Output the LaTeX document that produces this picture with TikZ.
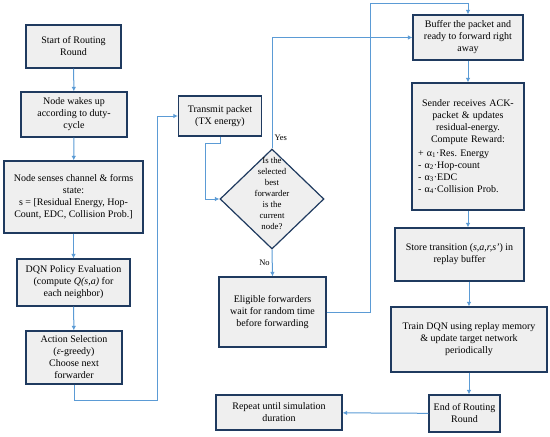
\documentclass[tikz,border=0pt]{standalone}
\usepackage{fontspec}
\setmainfont{Liberation Serif}
\usetikzlibrary{shapes.geometric,arrows.meta}

\definecolor{boxedge}{HTML}{1F3A5F}
\definecolor{boxfill}{HTML}{EFEFEF}
\definecolor{flowblue}{HTML}{5B9BD5}

\begin{document}
\begin{tikzpicture}[x=1pt, y=-1pt, >={Latex[length=4.5pt,width=4.5pt]},
  box/.style 2 args={draw=boxedge, fill=boxfill, line width=1.2pt, align=center,
    minimum width=#1, minimum height=#2, inner sep=2pt,
    font=\fontsize{10}{12}\selectfont},
  decision/.style={diamond, draw=boxedge, fill=boxfill, line width=1.2pt,
    minimum width=104pt, minimum height=100pt, inner sep=0pt,
    font=\fontsize{8.8}{11}\selectfont},
  flow/.style={->, flowblue, line width=1pt},
  lbl/.style={text=black, font=\fontsize{8.5}{10}\selectfont, inner sep=2pt}]

  \useasboundingbox (0,0) rectangle (550,437);

  % --- Columna izquierda ---
  \node[box={95pt}{43pt}] (start) at (73.5,46.5) {Start of Routing\\ Round};
  \node[box={106pt}{45pt}] (wake) at (74,114.5)
    {Node wakes up\\ according to duty-\\ cycle};
  \node[box={139pt}{72pt}] (senses) at (73.5,197)
    {Node senses channel \& forms\\ state:\\ s = [Residual Energy, Hop-\\ Count, EDC, Collision Prob.]};
  \node[box={113pt}{47pt}] (dqn) at (73.5,282.5)
    {DQN Policy Evaluation\\ (compute \textit{Q(s,a)} for\\ each neighbor)};
  \node[box={96pt}{53pt}] (action) at (74,357.5)
    {Action Selection\\ (\textit{ε}-greedy)\\ Choose next\\ forwarder};

  % --- Columna central ---
  \node[box={83pt}{40pt}] (transmit) at (220,116) {Transmit packet\\ (TX energy)};
  \node[decision] (decide) at (272,199)
    {\smash{\raisebox{3pt}{\parbox[c]{48pt}{\centering Is the\\ selected\\ best\\
      forwarder\\ is the\\ current\\ node?}}}};
  \node[box={107pt}{70pt}] (eligible) at (272.5,312)
    {Eligible forwarders\\ wait for random time\\ before forwarding};
  \node[box={126pt}{35pt}] (repeat) at (279,412.5)
    {Repeat until simulation\\ duration};

  % --- Columna derecha ---
  \node[box={110pt}{45pt}] (buffer) at (468,37.5)
    {Buffer the packet and\\ ready to forward right\\ away};
  \node[box={112pt}{127pt}, text width=100pt, align=left, inner xsep=6pt] (sender) at (468,146.5)
    {{\centering Sender receives ACK-\\ packet \& updates\\ residual-energy.\\ Compute Reward:\par}
     \vspace{2pt}
     + α\textsubscript{1}·Res.\ Energy\\
     - α\textsubscript{2}·Hop-count\\
     - α\textsubscript{3}·EDC\\
     - α\textsubscript{4}·Collision Prob.};
  \node[box={129pt}{53pt}] (store) at (459.5,254.5)
    {Store transition (\textit{s,a,r,s'}) in\\ replay buffer};
  \node[box={156pt}{65pt}] (train) at (469,339.5)
    {Train DQN using replay memory\\ \& update target network\\ periodically};
  \node[box={71pt}{37pt}] (endr) at (464.5,413.5) {End of Routing\\ Round};

  % --- Puntos de quiebre ---
  \coordinate (actloop) at (157,400);
  \coordinate (txbend) at (205,143);
  \coordinate (nobend) at (370,3);

  % --- Flechas ---
  \draw[flow] (start) -- (wake);
  \draw[flow] (wake) -- (senses);
  \draw[flow] (senses) -- (dqn);
  \draw[flow] (dqn) -- (action);
  \draw[flow] (action.south) |- (actloop) |- (transmit.west);
  \draw[flow] (transmit.south) |- (txbend) |- (decide.west);
  \draw[flow] (decide.north) |- node[lbl, pos=0.05, right] {Yes} (buffer.west);
  \draw[flow] (decide.south) -- node[lbl, left] {No} (eligible.north);
  \draw[flow] (eligible.east) -| (nobend) -| (buffer.north);
  \draw[flow] (buffer) -- (sender);
  \draw[flow] (sender.south) -- (sender.south |- store.north);
  \draw[flow] (train.north |- store.south) -- (train.north);
  \draw[flow] (train.south) -- (train.south |- endr.north);
  \draw[flow] (endr) -- (repeat);

\end{tikzpicture}
\end{document}
